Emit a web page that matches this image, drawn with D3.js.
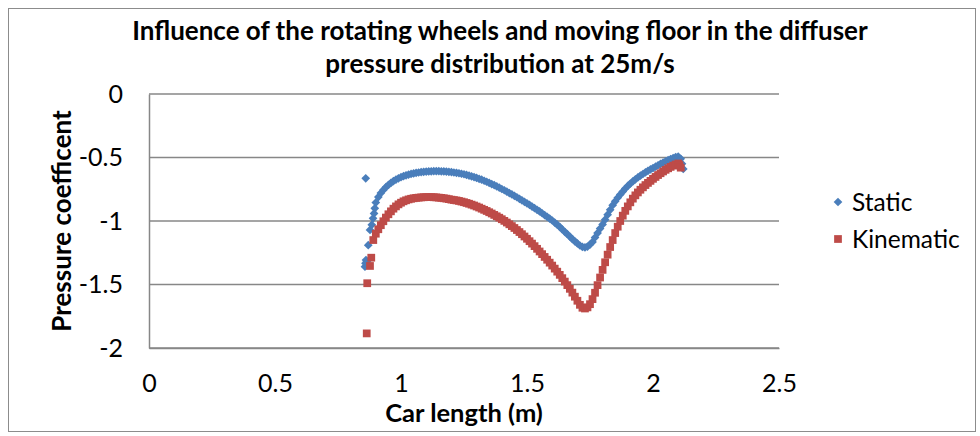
<!DOCTYPE html>
<html>
<head>
<meta charset="utf-8">
<script src="https://cdn.jsdelivr.net/npm/d3@7"></script>
<style>
  html, body { margin: 0; padding: 0; background: #fff; }
  svg { display: block; }
  text { font-family: Lato, "Open Sans", sans-serif; fill: #000; }
</style>
</head>
<body>
<svg id="chart" width="980" height="436"></svg>
<script>
// Chart text
const titleLines = ["Influence of the rotating wheels and moving floor in the diffuser",
                    "pressure distribution at 25m/s"];
const xAxisTitle = "Car length (m)";
const yAxisTitle = "Pressure coefficent";
const seriesNames = ["Static", "Kinematic"];

// Tick values
const xTicks = [0, 0.5, 1, 1.5, 2, 2.5];
const yTicks = [0, -0.5, -1, -1.5, -2];

// Static (fixed wheels / floor): x positions along the car (m)
const staticX = [0.860, 0.857, 0.859, 0.861, 0.865, 0.870, 0.877, 0.884, 0.889, 0.893, 0.896,
  0.90, 0.91, 0.92, 0.93, 0.94, 0.95, 0.96, 0.97, 0.98, 0.99,
  1.00, 1.01, 1.02, 1.03, 1.04, 1.05, 1.06, 1.07, 1.08, 1.09,
  1.10, 1.11, 1.12, 1.13, 1.14, 1.15, 1.16, 1.17, 1.18, 1.19,
  1.20, 1.21, 1.22, 1.23, 1.24, 1.25, 1.26, 1.27, 1.28, 1.29,
  1.30, 1.31, 1.32, 1.33, 1.34, 1.35, 1.36, 1.37, 1.38, 1.39,
  1.40, 1.41, 1.42, 1.43, 1.44, 1.45, 1.46, 1.47, 1.48, 1.49,
  1.50, 1.51, 1.52, 1.53, 1.54, 1.55, 1.56, 1.57, 1.58, 1.59,
  1.60, 1.61, 1.62, 1.63, 1.64, 1.65, 1.66, 1.67, 1.68, 1.69,
  1.70, 1.71, 1.72, 1.73, 1.74, 1.75, 1.76, 1.77, 1.78, 1.79,
  1.80, 1.81, 1.82, 1.83, 1.84, 1.85, 1.86, 1.87, 1.88, 1.89,
  1.90, 1.91, 1.92, 1.93, 1.94, 1.95, 1.96, 1.97, 1.98, 1.99,
  2.00, 2.01, 2.02, 2.03, 2.04, 2.05, 2.06, 2.07, 2.08, 2.09,
  2.10, 2.11, 2.115, 2.12];
// Static pressure coefficient
const staticY = [-0.664, -1.360, -1.333, -1.307, -1.320, -1.190, -1.070, -1.030, -0.979, -0.940, -0.900,
  -0.855, -0.812, -0.780, -0.755, -0.734, -0.716, -0.700, -0.686, -0.674, -0.664,
  -0.655, -0.647, -0.640, -0.634, -0.629, -0.625, -0.621, -0.618, -0.615, -0.613,
  -0.611, -0.610, -0.609, -0.608, -0.608, -0.608, -0.609, -0.610, -0.611, -0.613,
  -0.615, -0.618, -0.621, -0.624, -0.628, -0.632, -0.637, -0.642, -0.648, -0.654,
  -0.661, -0.668, -0.675, -0.683, -0.691, -0.700, -0.709, -0.718, -0.728, -0.738,
  -0.748, -0.758, -0.769, -0.780, -0.791, -0.802, -0.813, -0.825, -0.837, -0.849,
  -0.861, -0.873, -0.886, -0.899, -0.912, -0.925, -0.939, -0.953, -0.967, -0.981,
  -0.996, -1.012, -1.029, -1.047, -1.066, -1.085, -1.104, -1.123, -1.142, -1.160,
  -1.177, -1.193, -1.204, -1.208, -1.201, -1.186, -1.165, -1.130, -1.095, -1.060,
  -1.027, -0.990, -0.950, -0.912, -0.875, -0.845, -0.817, -0.792, -0.768, -0.745,
  -0.724, -0.705, -0.688, -0.672, -0.657, -0.643, -0.630, -0.617, -0.605, -0.594,
  -0.583, -0.572, -0.561, -0.550, -0.540, -0.530, -0.521, -0.512, -0.504, -0.497,
  -0.492, -0.510, -0.550, -0.590];

// Kinematic (rotating wheels / moving floor): x positions (m)
const kinematicX = [0.864, 0.866, 0.877, 0.882, 0.89,
  0.90, 0.91, 0.92, 0.93, 0.94, 0.95, 0.96, 0.97, 0.98, 0.99,
  1.00, 1.01, 1.02, 1.03, 1.04, 1.05, 1.06, 1.07, 1.08, 1.09,
  1.10, 1.11, 1.12, 1.13, 1.14, 1.15, 1.16, 1.17, 1.18, 1.19,
  1.20, 1.21, 1.22, 1.23, 1.24, 1.25, 1.26, 1.27, 1.28, 1.29,
  1.30, 1.31, 1.32, 1.33, 1.34, 1.35, 1.36, 1.37, 1.38, 1.39,
  1.40, 1.41, 1.42, 1.43, 1.44, 1.45, 1.46, 1.47, 1.48, 1.49,
  1.50, 1.51, 1.52, 1.53, 1.54, 1.55, 1.56, 1.57, 1.58, 1.59,
  1.60, 1.61, 1.62, 1.63, 1.64, 1.65, 1.66, 1.67, 1.68, 1.69,
  1.70, 1.71, 1.72, 1.73, 1.74, 1.75, 1.76, 1.77, 1.78, 1.79,
  1.80, 1.81, 1.82, 1.83, 1.84, 1.85, 1.86, 1.87, 1.88, 1.89,
  1.90, 1.91, 1.92, 1.93, 1.94, 1.95, 1.96, 1.97, 1.98, 1.99,
  2.00, 2.01, 2.02, 2.03, 2.04, 2.05, 2.06, 2.07, 2.08, 2.09,
  2.10, 2.105, 2.11];
// Kinematic pressure coefficient
const kinematicY = [-1.885, -1.490, -1.354, -1.289, -1.150,
  -1.100, -1.065, -1.033, -1.002, -0.973, -0.947, -0.924, -0.903, -0.885, -0.869,
  -0.856, -0.845, -0.837, -0.830, -0.825, -0.821, -0.818, -0.816, -0.814, -0.813,
  -0.812, -0.812, -0.812, -0.813, -0.814, -0.816, -0.818, -0.821, -0.824, -0.828,
  -0.832, -0.835, -0.838, -0.842, -0.847, -0.852, -0.858, -0.864, -0.871, -0.878,
  -0.886, -0.894, -0.903, -0.912, -0.921, -0.931, -0.941, -0.952, -0.963, -0.974,
  -0.986, -0.999, -1.012, -1.026, -1.040, -1.055, -1.071, -1.087, -1.104, -1.122,
  -1.140, -1.159, -1.178, -1.198, -1.219, -1.240, -1.261, -1.283, -1.305, -1.328,
  -1.351, -1.375, -1.399, -1.424, -1.450, -1.477, -1.505, -1.534, -1.564, -1.596,
  -1.628, -1.660, -1.683, -1.689, -1.680, -1.655, -1.615, -1.565, -1.505, -1.445,
  -1.385, -1.325, -1.265, -1.205, -1.150, -1.095, -1.045, -1.000, -0.958, -0.920,
  -0.885, -0.853, -0.824, -0.798, -0.775, -0.754, -0.735, -0.717, -0.700, -0.684,
  -0.668, -0.653, -0.638, -0.624, -0.610, -0.597, -0.585, -0.574, -0.564, -0.555,
  -0.547, -0.560, -0.580];

const colors = ["#4a7ebb", "#be4b48"];

const svg = d3.select("#chart");

// Outer chart border
svg.append("rect")
  .attr("x", 8.5).attr("y", 8.5)
  .attr("width", 967).attr("height", 423)
  .attr("fill", "#fff").attr("stroke", "#8c8c8c").attr("stroke-width", 1);

const plot = { left: 149, right: 779, top: 94, bottom: 348 };

const x = d3.scaleLinear().domain([0, 2.5]).range([plot.left, plot.right]);
const y = d3.scaleLinear().domain([-2, 0]).range([plot.bottom, plot.top]);

// Horizontal gridlines
svg.append("g")
  .selectAll("line")
  .data(yTicks)
  .join("line")
  .attr("x1", plot.left).attr("x2", plot.right)
  .attr("y1", d => y(d)).attr("y2", d => y(d))
  .attr("stroke", "#878787").attr("stroke-width", 1.5);

// Axes
const xAxis = d3.axisBottom(x).tickValues(xTicks).tickSize(0).tickPadding(26)
  .tickFormat(d => String(d));
const yAxis = d3.axisLeft(y).tickValues(yTicks).tickSize(0).tickPadding(26)
  .tickFormat(d => d === 0 ? "0" : String(d));

const gx = svg.append("g").attr("transform", `translate(0,${plot.bottom})`).call(xAxis);
const gy = svg.append("g").attr("transform", `translate(${plot.left},0)`).call(yAxis);
[gx, gy].forEach(g => {
  g.select(".domain").attr("stroke", "#878787").attr("stroke-width", 1.5);
  g.selectAll("text").attr("font-size", 25).attr("font-family", "Lato, sans-serif").attr("fill", "#000");
});

// Markers: rotated squares for Static, squares for Kinematic
const diamond = d3.symbol(d3.symbolSquare, 38)();
const square = d3.symbol(d3.symbolSquare, 60)();

const staticPts = staticX.map((v, i) => [v, staticY[i]]);
const kinematicPts = kinematicX.map((v, i) => [v, kinematicY[i]]);

svg.append("g")
  .selectAll("path")
  .data(staticPts)
  .join("path")
  .attr("d", diamond)
  .attr("transform", d => `translate(${x(d[0])},${y(d[1])}) rotate(45)`)
  .attr("fill", colors[0]);

svg.append("g")
  .selectAll("path")
  .data(kinematicPts)
  .join("path")
  .attr("d", square)
  .attr("transform", d => `translate(${x(d[0])},${y(d[1])})`)
  .attr("fill", colors[1]);

// Title
svg.append("text")
  .attr("text-anchor", "middle")
  .attr("font-size", 26).attr("font-weight", "bold")
  .selectAll("tspan")
  .data(titleLines)
  .join("tspan")
  .attr("x", 500)
  .attr("y", (d, i) => 40 + i * 33)
  .text(d => d);

// Axis titles
svg.append("text")
  .attr("x", (plot.left + plot.right) / 2).attr("y", 422)
  .attr("text-anchor", "middle").attr("font-size", 25.5).attr("font-weight", "bold")
  .text(xAxisTitle);

svg.append("text")
  .attr("transform", `translate(71,${(plot.top + plot.bottom) / 2}) rotate(-90)`)
  .attr("text-anchor", "middle").attr("font-size", 26).attr("font-weight", "bold")
  .text(yAxisTitle);

// Legend
const legend = svg.append("g");
seriesNames.forEach((name, i) => {
  const cy = 202 + i * 37;
  legend.append("path")
    .attr("d", i === 0 ? diamond : square)
    .attr("transform", `translate(838,${cy})` + (i === 0 ? " rotate(45)" : ""))
    .attr("fill", colors[i]);
  legend.append("text")
    .attr("x", 852).attr("y", cy + 8.5)
    .attr("font-size", 24.5)
    .text(name);
});
</script>
</body>
</html>
